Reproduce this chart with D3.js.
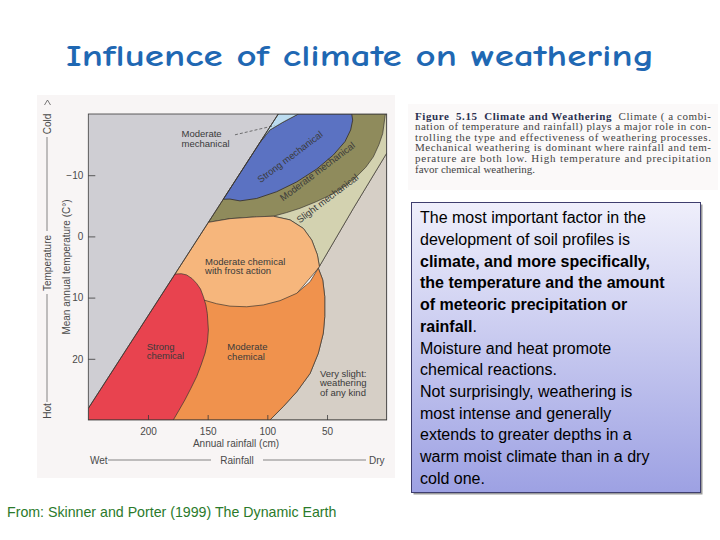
<!DOCTYPE html>
<html><head><meta charset="utf-8">
<script src="https://cdn.jsdelivr.net/npm/d3@7"></script>
<style>body{margin:0;background:#fff;} svg{display:block;}</style>
</head><body>
<script>
// ---------- DATA (rainfall cm, mean annual temperature °C) ----------
const rainTicks = [200, 150, 100, 50];
const tempTicks = [-10, 0, 10, 20];

const grayRegion   = [[250,-20],[90.8,-20],[250,28.1]];
const verySlight   = [[0,-13.6],[27.9,-4.6],[56.4,4.9],[57.3,5.2],[53.6,7.1],[51.9,9.85],[51.9,13.1],[53.1,15.8],[57.3,19.1],[64.2,22.4],[75.4,25.4],[86.6,27.8],[97.8,30],[0,30]];
const slightMech   = [[1.1,-20],[0,-20],[0,-13.6],[27.9,-4.6],[56.4,4.9],[58.1,3.0],[62.8,0.6],[69.8,-1.3],[81,-2.7],[95,-3.3],[60,-12],[30,-20]];
const moderateMech = [[149.4,-2.3],[136.9,-6.07],[106.1,-15.38],[90.8,-20],[1.1,-20],[1.4,-19.6],[3.35,-16.8],[6.5,-15.0],[11.2,-13.0],[17.5,-11.3],[25.1,-9.8],[33.5,-8.4],[44.7,-7.0],[58.7,-5.7],[72.6,-4.6],[83.8,-3.9],[95,-3.3],[108.9,-3.2],[131.3,-2.9]];
const strongMech   = [[136.9,-6.07],[106.1,-15.38],[97.8,-17.4],[86.6,-18.7],[74.0,-20],[29.3,-20],[28.5,-19.0],[30.2,-17.4],[34.9,-15.5],[44.7,-13.3],[58.7,-11.0],[75.4,-8.9],[92.2,-7.3],[108.9,-6.2],[122.9,-5.8],[131.3,-6.1]];
const lightBlue    = [[106.1,-15.38],[90.8,-20],[74.0,-20],[86.6,-18.7],[97.8,-17.4]];
const frostChem    = [[177.4,6.16],[149.4,-2.3],[131.3,-2.9],[108.9,-3.2],[95,-3.3],[81,-2.7],[69.8,-1.3],[62.8,0.6],[58.1,3.0],[56.4,4.9],[57.3,5.2],[100,15],[150,15]];
const moderateChem = [[153.2,10.4],[142.5,11.0],[131.3,11.4],[117.3,11.5],[103.3,11.2],[89.4,10.5],[75.4,9.3],[64.2,7.4],[57.3,5.2],[53.6,7.1],[51.9,9.85],[51.9,13.1],[53.1,15.8],[57.3,19.1],[64.2,22.4],[75.4,25.4],[86.6,27.8],[97.8,30],[180,30],[160,20]];
const strongChem   = [[177.4,6.16],[172,6.1],[167.6,6.3],[163,6.9],[159.2,7.7],[156,8.6],[153.6,9.85],[151.5,11.2],[150.3,12.6],[149.4,15.3],[150.2,17.3],[152.2,19.1],[155.5,21.0],[159.2,22.9],[164,24.8],[169.0,26.7],[174,28.4],[178.8,30],[250,30],[250,28.1]];
const diagonal     = [[250,28.1],[90.8,-20]];
const leader       = [[127.1,-16.6],[94.2,-18.1]];

const regionNames  = ["gray","verySlight","slightMech","moderateMech","strongMech","lightBlue","frostChem","moderateChem","strongChem"];
const regionData   = [grayRegion, verySlight, slightMech, moderateMech, strongMech, lightBlue, frostChem, moderateChem, strongChem];
const regionColors = ["#cfced3","#d6cfc6","#d3d2b0","#8f8b5c","#5b72c2","#bcdcf0","#f6b67c","#f0924d","#e8434f"];

const flatLabels = [
  {lines:["Moderate","mechanical"], rain:171.9, temp:-16.7},
  {lines:["Moderate chemical","with frost action"], rain:152.2, temp:4.1},
  {lines:["Strong","chemical"], rain:201.1, temp:18.0},
  {lines:["Moderate","chemical"], rain:133.5, temp:18.1},
  {lines:["Very slight:","weathering","of any kind"], rain:55.9, temp:22.4}
];
const tiltLabels = [
  {text:"Strong mechanical", rain:81, temp:-13.0},
  {text:"Moderate mechanical", rain:58.1, temp:-10.6},
  {text:"Slight mechanical", rain:49.7, temp:-6.2}
];

const captionLines = [
  [["Figure  5.15  Climate and Weathering",true],["  Climate ( a combi-",false]],
  [["nation of temperature and rainfall) plays a major role in con-",false]],
  [["trolling the type and effectiveness of weathering processes.",false]],
  [["Mechanical weathering is dominant where rainfall and tem-",false]],
  [["perature are both low. High temperature and precipitation",false]],
  [["favor chemical weathering.",false]]
];
const boxLines = [
  [["The most important factor in the",false]],
  [["development of soil profiles is",false]],
  [["climate, and more specifically,",true]],
  [["the temperature and the amount",true]],
  [["of meteoric precipitation or",true]],
  [["rainfall",true],[".",false]],
  [["Moisture and heat promote",false]],
  [["chemical reactions.",false]],
  [["Not surprisingly, weathering is",false]],
  [["most intense and generally",false]],
  [["extends to greater depths in a",false]],
  [["warm moist climate than in a dry",false]],
  [["cold one.",false]]
];

// ---------- DRAW ----------
const svg = d3.select("body").append("svg").attr("width",720).attr("height",540);
svg.append("rect").attr("width",720).attr("height",540).attr("fill","#fff");

const sans = "'Liberation Sans', Arial, Helvetica, sans-serif";

// title
svg.append("text").attr("x",66).attr("y",66)
  .attr("font-family","'Comic Sans MS','Comic Neue','DejaVu Sans',sans-serif")
  .attr("font-size",31).attr("font-weight","bold").attr("fill","#1f68b3")
  .attr("textLength",588).attr("lengthAdjust","spacingAndGlyphs")
  .text("Influence of climate on weathering");

// scanned page background
svg.append("rect").attr("x",37).attr("y",95).attr("width",358).attr("height",383).attr("fill","#f8f5f5");
svg.append("rect").attr("x",408).attr("y",104).attr("width",310).attr("height",86).attr("fill","#fbf9f9");

const x = d3.scaleLinear().domain([250,0]).range([88.3,386.7]);
const y = d3.scaleLinear().domain([-20,30]).range([114,420]);

svg.append("clipPath").attr("id","plotclip").append("rect")
  .attr("x",x(250)).attr("y",y(-20)).attr("width",x(0)-x(250)).attr("height",y(30)-y(-20));

const line = d3.line().x(d=>x(d[0])).y(d=>y(d[1]));
const plot = svg.append("g").attr("clip-path","url(#plotclip)");

plot.selectAll("path.region").data(regionData).join("path")
  .attr("class",(d,i)=>"region "+regionNames[i])
  .attr("d",d=>line(d)+"Z")
  .attr("fill",(d,i)=>regionColors[i])
  .attr("stroke",(d,i)=>i===0?"none":"#3b3630")
  .attr("stroke-width",(d,i)=>i===4?0.9:0.7)
  .attr("stroke-linejoin","round");

plot.append("path").attr("d",line(diagonal)).attr("stroke","#3b3630").attr("stroke-width",0.8).attr("fill","none");

// frame
svg.append("rect").attr("x",x(250)).attr("y",y(-20)).attr("width",x(0)-x(250)).attr("height",y(30)-y(-20))
  .attr("fill","none").attr("stroke","#3a3a3a").attr("stroke-width",0.8);

// axes
const yAxis = d3.axisLeft(y).tickValues(tempTicks).tickSize(-7).tickPadding(5);
const gy = svg.append("g").attr("transform",`translate(${x(250)},0)`).call(yAxis);
const xAxis = d3.axisBottom(x).tickValues(rainTicks).tickSize(-5).tickPadding(8);
const gx = svg.append("g").attr("transform",`translate(0,${y(30)})`).call(xAxis);
[gx,gy].forEach(g=>{
  g.select(".domain").remove();
  g.selectAll("line").attr("stroke","#3a3a3a").attr("stroke-width",0.8);
  g.selectAll("text").attr("font-family",sans).attr("font-size",10).attr("fill","#4a4a4a");
});

// axis titles
svg.append("text").attr("x",236).attr("y",446.5).attr("text-anchor","middle")
  .attr("font-family",sans).attr("font-size",10).attr("fill","#4a4a4a").text("Annual rainfall (cm)");
svg.append("text").attr("transform","translate(70,267) rotate(-90)").attr("text-anchor","middle")
  .attr("font-family",sans).attr("font-size",10).attr("fill","#4a4a4a").text("Mean annual temperature (C°)");

// Wet — Rainfall — Dry
const gw = svg.append("g").attr("font-family",sans).attr("font-size",10).attr("fill","#4a4a4a");
gw.append("text").attr("x",90).attr("y",463.5).text("Wet");
gw.append("text").attr("x",237).attr("y",463.5).attr("text-anchor","middle").text("Rainfall");
gw.append("text").attr("x",369).attr("y",463.5).text("Dry");
gw.append("line").attr("x1",108).attr("x2",211).attr("y1",460).attr("y2",460).attr("stroke","#555").attr("stroke-width",0.7);
gw.append("line").attr("x1",263).attr("x2",366).attr("y1",460).attr("y2",460).attr("stroke","#555").attr("stroke-width",0.7);

// Hot — Temperature — Cold
const gt = svg.append("g").attr("font-family",sans).attr("font-size",10).attr("fill","#4a4a4a");
gt.append("text").attr("transform","translate(50.5,411) rotate(-90)").attr("text-anchor","middle").text("Hot");
gt.append("text").attr("transform","translate(50.5,263) rotate(-90)").attr("text-anchor","middle").text("Temperature");
gt.append("text").attr("transform","translate(50.5,124) rotate(-90)").attr("text-anchor","middle").text("Cold");
gt.append("line").attr("x1",47).attr("x2",47).attr("y1",137).attr("y2",231).attr("stroke","#555").attr("stroke-width",0.7);
gt.append("line").attr("x1",47).attr("x2",47).attr("y1",294).attr("y2",402).attr("stroke","#555").attr("stroke-width",0.7);
gt.append("path").attr("d","M44.5,105 L47.5,100 L50.5,105").attr("fill","none").attr("stroke","#555").attr("stroke-width",0.8);

// region labels
const gl = svg.append("g").attr("font-family",sans).attr("font-size",9.5).attr("fill","#3a3a3a");
flatLabels.forEach(l=>{
  const t = gl.append("text").attr("x",x(l.rain)).attr("y",y(l.temp)+3.3);
  l.lines.forEach((s,i)=>t.append("tspan").attr("x",x(l.rain)).attr("dy",i===0?0:9.6).text(s));
});
tiltLabels.forEach(l=>{
  gl.append("text").attr("transform",`translate(${x(l.rain)},${y(l.temp)}) rotate(-37)`)
    .attr("text-anchor","middle").attr("dy","0.35em").text(l.text);
});
svg.append("path").attr("d",line(leader)).attr("stroke","#444").attr("stroke-width",0.7)
  .attr("stroke-dasharray","3,2").attr("fill","none");

// caption (figure text)
const serif = "'Liberation Serif','DejaVu Serif',Times,serif";
captionLines.forEach((ln,i)=>{
  const t = svg.append("text").attr("x",415).attr("y",119.5+10.6*i)
    .attr("font-family",serif).attr("font-size",11).attr("fill","#444");
  if(i<captionLines.length-1) t.attr("textLength",296).attr("lengthAdjust","spacing");
  ln.forEach(([s,b])=>t.append("tspan").attr("font-weight",b?"bold":"normal").attr("fill",b?"#2a3050":"#444")
    .attr("xml:space","preserve").text(s));
});

// text box
const defs = svg.append("defs");
const grad = defs.append("linearGradient").attr("id","boxgrad").attr("x1",0).attr("y1",0).attr("x2",0).attr("y2",1);
grad.append("stop").attr("offset","0%").attr("stop-color","#efeffb");
grad.append("stop").attr("offset","100%").attr("stop-color","#9da1e3");
svg.append("rect").attr("x",413.5).attr("y",204.5).attr("width",289).attr("height",290).attr("fill","#9a9a9a");
svg.append("rect").attr("x",411.5).attr("y",202.5).attr("width",289).attr("height",290)
  .attr("fill","url(#boxgrad)").attr("stroke","#3e3e6e").attr("stroke-width",1);
boxLines.forEach((ln,i)=>{
  const t = svg.append("text").attr("x",420).attr("y",223.3+21.7*i)
    .attr("font-family",sans).attr("font-size",16).attr("fill","#000");
  ln.forEach(([s,b])=>t.append("tspan").attr("font-weight",b?"bold":"normal").text(s));
});

// footer
svg.append("text").attr("x",7).attr("y",516.5).attr("font-family",sans).attr("font-size",14.2)
  .attr("fill","#2b7a2b").text("From: Skinner and Porter (1999) The Dynamic Earth");
</script>
</body></html>
